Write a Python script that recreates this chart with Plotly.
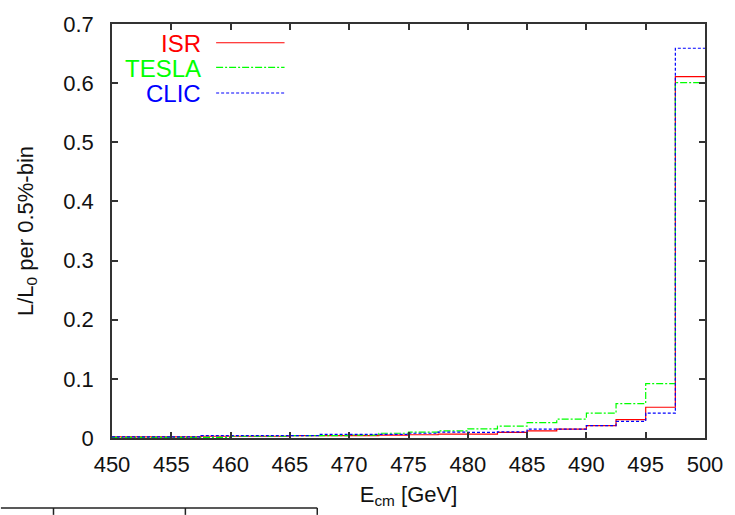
import plotly.graph_objects as go

bin_edges = [450 + 2.5 * i for i in range(21)]
isr = [0.002, 0.002, 0.002, 0.003, 0.003, 0.003, 0.004, 0.004, 0.004, 0.005,
       0.0055, 0.0067, 0.0067, 0.0095, 0.012, 0.015, 0.021, 0.031, 0.052, 0.611]
tesla = [0.001, 0.001, 0.001, 0.001, 0.003, 0.003, 0.004, 0.004, 0.005, 0.008,
         0.010, 0.012, 0.0155, 0.020, 0.026, 0.032, 0.042, 0.058, 0.092, 0.601]
clic = [0.002, 0.002, 0.002, 0.004, 0.004, 0.004, 0.004, 0.006, 0.006, 0.006,
        0.008, 0.010, 0.0095, 0.0105, 0.015, 0.015, 0.021, 0.028, 0.042, 0.659]
names = ["ISR", "TESLA", "CLIC"]
colors = ["#ff0000", "#00ff00", "#0000ff"]
dashes = ["solid", "7px,2px,2px,2px", "3px,2px"]
series = [isr, tesla, clic]
x_ticks = [450, 455, 460, 465, 470, 475, 480, 485, 490, 495, 500]
y_ticks = [0, 0.1, 0.2, 0.3, 0.4, 0.5, 0.6, 0.7]

FONT = "Liberation Sans, Arial, Helvetica, sans-serif"
TXT = "#111111"

fig = go.Figure()
for name, vals, col, dash in zip(names, series, colors, dashes):
    fig.add_trace(go.Scatter(
        x=bin_edges, y=vals + [vals[-1]], mode="lines", name=name,
        line=dict(color=col, width=1.2, dash=dash, shape="hv"),
        showlegend=False, hoverinfo="skip"))

L, R, T, B = 112, 25, 18, 77
W, H = 735, 515
pw, ph = W - L - R, H - T - B

def px(p):
    return (p - L) / pw

def py(p):
    return (H - B - p) / ph

# legend (manual, gnuplot style: text right-aligned, sample to the right)
rows = [38, 63, 89]
for name, col, dash, yy in zip(names, colors, dashes, rows):
    fig.add_annotation(x=px(204), y=py(yy), xref="paper", yref="paper",
                       text=name, showarrow=False, xanchor="right", yanchor="middle",
                       font=dict(family=FONT, size=24, color=col))
    fig.add_shape(type="line", xref="paper", yref="paper",
                  x0=px(217), x1=px(286), y0=py(yy - 1), y1=py(yy - 1),
                  line=dict(color=col, width=1.2, dash=dash))

# partial frame of neighbouring figure at bottom edge
edge = "#222222"
fig.add_shape(type="line", xref="paper", yref="paper",
              x0=px(0), x1=px(319), y0=py(509), y1=py(509), line=dict(color=edge, width=1.5))
for xv in [53, 186, 319]:
    fig.add_shape(type="line", xref="paper", yref="paper",
                  x0=px(xv), x1=px(xv), y0=py(509), y1=py(516), line=dict(color=edge, width=1.5))

axis_common = dict(showline=True, linecolor="#333333", linewidth=1.5, mirror="ticks",
                   ticks="inside", ticklen=6, tickcolor="#333333", tickwidth=1.5,
                   showgrid=False, zeroline=False,
                   tickfont=dict(family=FONT, size=22, color=TXT))

fig.update_layout(
    width=W, height=H,
    margin=dict(l=L, r=R, t=T, b=B),
    paper_bgcolor="white", plot_bgcolor="white",
    xaxis=dict(range=[450, 500], tickvals=x_ticks, ticktext=[str(v) for v in x_ticks],
               ticklabelstandoff=6,
               title=dict(text="E<sub>cm</sub> [GeV]", standoff=10,
                          font=dict(family=FONT, size=22, color=TXT)),
               **axis_common),
    yaxis=dict(range=[0, 0.7], tickvals=y_ticks, ticktext=["0"] + [f"{v:.1f}" for v in y_ticks[1:]],
               ticklabelstandoff=12,
               title=dict(text="L/L<sub>0</sub> per 0.5%-bin", standoff=24,
                          font=dict(family=FONT, size=22, color=TXT)),
               **axis_common),
)

fig.write_html("out.html")
